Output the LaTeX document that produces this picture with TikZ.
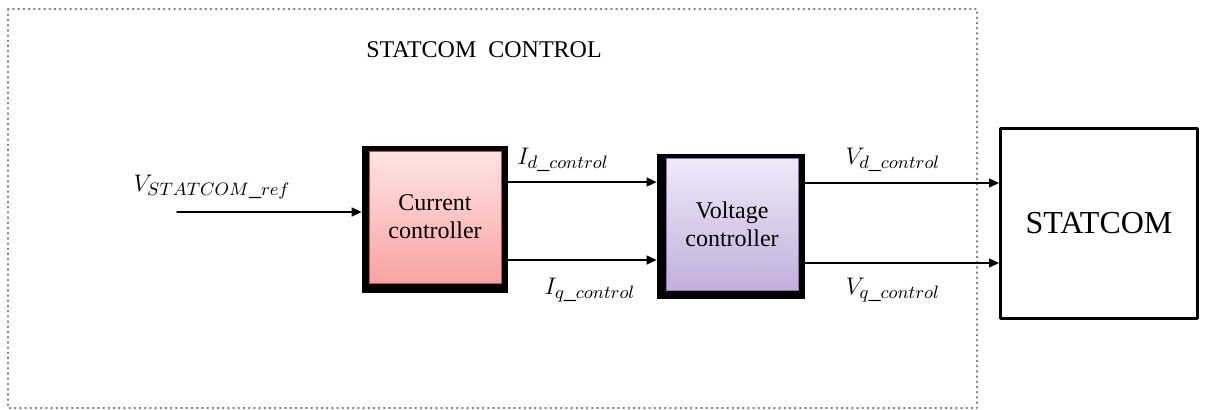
\documentclass[tikz,border=0pt]{standalone}
\usepackage{fontspec}
\setmainfont{Liberation Serif}
\DeclareMathSizes{12}{12.5}{9.5}{7}
\usetikzlibrary{arrows.meta}
\definecolor{pinktop}{HTML}{FFE4E4}
\definecolor{pinkbot}{HTML}{F8A2A2}
\definecolor{pinkline}{HTML}{C0504D}
\definecolor{lilactop}{HTML}{EFE9F7}
\definecolor{lilacbot}{HTML}{C3AFDC}
\definecolor{lilacline}{HTML}{8C73B2}
\begin{document}
\begin{tikzpicture}[x=0.5pt,y=-0.5pt,line cap=round,line join=round,font=\rmfamily\fontsize{12}{14}\selectfont,
  frame/.style={fill=black,inner sep=0pt,minimum width=#1},
  blk/.style={inner sep=0pt,minimum width=66pt,minimum height=66pt,align=center,line width=0.5pt},
  arr/.style={-{Triangle[length=5pt,width=4.5pt]},line width=0.7pt}]
  \useasboundingbox (0,0) rectangle (1205,409);
  \draw[dotted,gray,line width=0.6pt] (8,9) rectangle (977,408);
  \node (title) at (484,50) {STATCOM\ \ CONTROL};

  % blocks
  \node[frame=73pt,minimum height=73.5pt] (ccf) at (435,219.5) {};
  \node[blk,draw=pinkline,top color=pinktop,bottom color=pinkbot] (cc) at (435,217) {Current\\controller};
  \node[frame=74pt,minimum height=72.5pt] (vcf) at (731,226.5) {};
  \node[blk,draw=lilacline,top color=lilactop,bottom color=lilacbot] (vc) at (732,224) {Voltage\\controller};
  \node[draw,line width=1.5pt,minimum width=98.5pt,minimum height=95pt,font=\rmfamily\fontsize{16}{18}\selectfont] (stat) at (1099,223.5) {STATCOM};

  % signals
  \coordinate (ref) at (177,212);
  \draw[arr] (ref) -- (ref -| ccf.west);
  \draw[arr] (ccf.east |- 0,182) -- (vcf.west |- 0,182);
  \draw[arr] (ccf.east |- 0,260) -- (vcf.west |- 0,260);
  \draw[arr] (vcf.east |- 0,183) -- (stat.west |- 0,183);
  \draw[arr] (vcf.east |- 0,263) -- (stat.west |- 0,263);

  \node (lref) at (212,187) {$V_{STATCOM\_ref}$};
  \node (lid) at (563,160) {$I_{d\_control}$};
  \node (liq) at (590,290) {$I_{q\_control}$};
  \node (lvd) at (893,160) {$V_{d\_control}$};
  \node (lvq) at (893,290) {$V_{q\_control}$};
\end{tikzpicture}
\end{document}
